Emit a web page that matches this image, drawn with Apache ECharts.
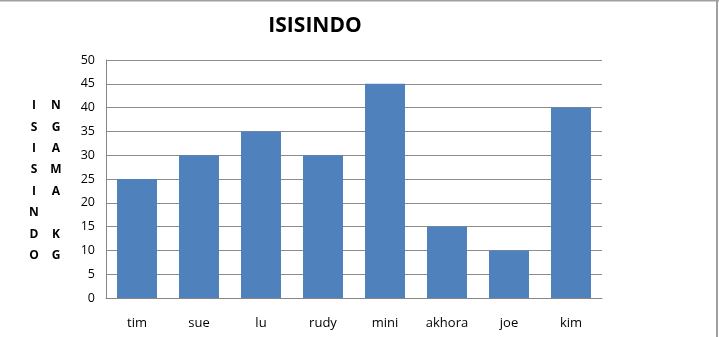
<!DOCTYPE html>
<html><head><meta charset="utf-8">
<script src="https://cdn.jsdelivr.net/npm/echarts@6/dist/echarts.min.js"></script>
<style>html,body{margin:0;padding:0;background:#fff}#c{width:719px;height:337px}</style>
</head><body><div id="c"></div>
<script>
const categories = ['tim','sue','lu','rudy','mini','akhora','joe','kim'];
const values = [25,30,35,30,45,15,10,40];
const titleText = 'ISISINDO';
const yNameLeft = ['I','S','I','S','I','N','D','O'];
const yNameRight = ['N','G','A','M','A','','K','G'];
const chart = echarts.init(document.getElementById('c'));
const font = '"Open Sans", "DejaVu Sans", sans-serif';
chart.setOption({
  animation:false,
  backgroundColor:'#fff',
  title:{text:titleText,left:310,top:11,textAlign:'center',
    textStyle:{fontFamily:font,fontWeight:'bold',fontSize:21,color:'#000'}},
  grid:{left:106,right:117,top:60,bottom:39},
  xAxis:{type:'category',data:categories,
    axisLine:{show:true,lineStyle:{color:'#868686'}},axisTick:{show:false},
    axisLabel:{margin:19,fontFamily:font,fontSize:13,color:'#000'}},
  yAxis:{type:'value',min:0,max:50,interval:5,
    axisLine:{show:true,lineStyle:{color:'#868686'}},axisTick:{show:false},
    axisLabel:{margin:11,fontFamily:font,fontSize:12.5,color:'#000'},
    splitLine:{lineStyle:{color:'#8c8c8c',width:1}}},
  series:[{type:'bar',data:values,barWidth:40,itemStyle:{color:'#4F81BD'}}],
  graphic:[
    {type:'text',x:34,y:95,style:{text:yNameLeft.join('\n'),font:'bold 12px '+font,lineHeight:21.4,fill:'#000',align:'center'}},
    {type:'text',x:56,y:95,style:{text:yNameRight.join('\n'),font:'bold 12px '+font,lineHeight:21.4,fill:'#000',align:'center'}},
    {type:'rect',shape:{x:0,y:0,width:719,height:1.5},style:{fill:'#a0a0a0'}},
    {type:'rect',shape:{x:716,y:0,width:2,height:337},style:{fill:'#a0a0a0'}}
  ]
});
</script></body></html>
